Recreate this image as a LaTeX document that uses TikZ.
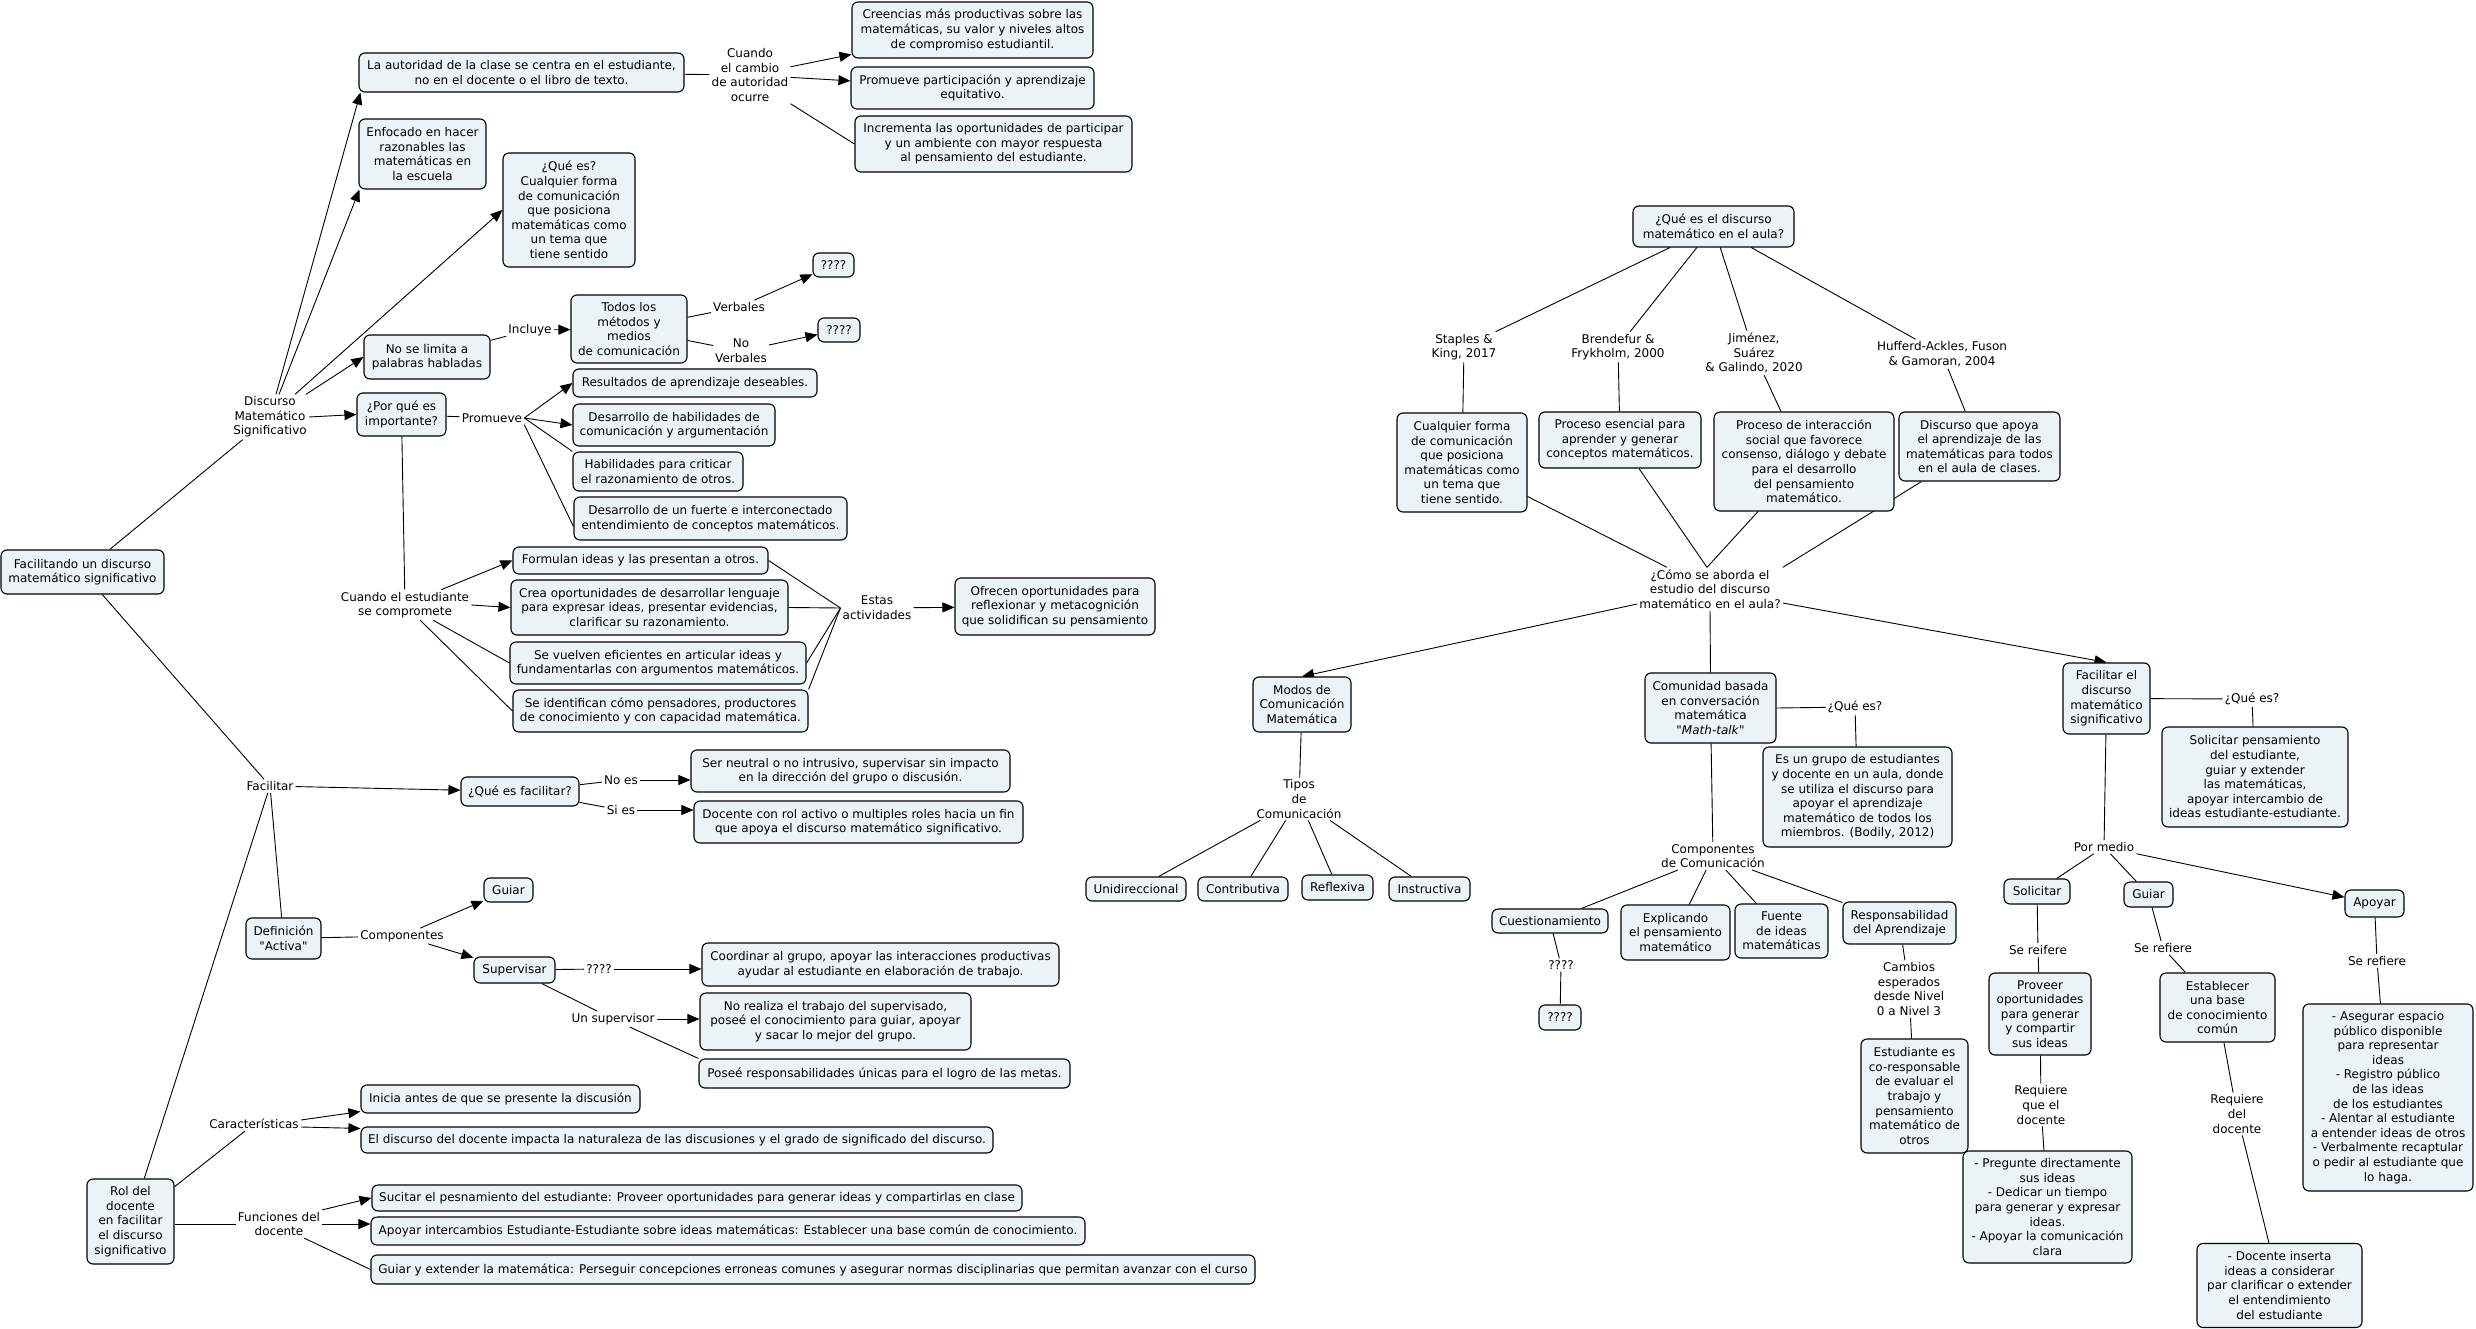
\documentclass[tikz,border=0pt]{standalone}
\usepackage{fontspec}
\setmainfont{DejaVu Sans}
\usetikzlibrary{arrows.meta,backgrounds,calc}
\definecolor{boxfill}{RGB}{236,243,245}
\newcommand{\mapfont}{\fontsize{12}{14.6}\selectfont}
\newcommand{\sq}{\XeTeXglyph\XeTeXcharglyph"0022\relax}
\tikzset{
  box/.style={draw=black, line width=1.1pt, fill=boxfill, rounded corners=6pt, align=center, inner sep=2pt, font=\mapfont},
  lab/.style={align=center, inner sep=2pt, font=\mapfont},
  con/.style={line width=0.9pt, draw=black},
  arr/.style={con, -{Triangle[length=12pt,width=10pt]}}
}
\begin{document}
\begin{tikzpicture}[x=1pt,y=-1pt]
\useasboundingbox (0,0) rectangle (2476,1329);
% ---------------- left part ----------------
\node[box, minimum width=325, minimum height=39] (A1) at (521.5,72.5) {La autoridad de la clase se centra en el estudiante,\\ no en el docente o el libro de texto.};
\node[lab] (cuandocambio) at (750,75) {Cuando\\ el cambio\\ de autoridad\\ ocurre};
\node[box, minimum width=241, minimum height=56] (creencias) at (972.5,30) {Creencias más productivas sobre las\\ matemáticas, su valor y niveles altos\\ de compromiso estudiantil.};
\node[box, minimum width=243, minimum height=42] (promueve1) at (972.5,88) {Promueve participación y aprendizaje\\ equitativo.};
\node[box, minimum width=277, minimum height=56] (incrementa) at (993.5,144) {Incrementa las oportunidades de participar\\ y un ambiente con mayor respuesta\\ al pensamiento del estudiante.};
\node[box, minimum width=127, minimum height=70] (enf) at (422.5,154) {Enfocado en hacer\\ razonables las\\ matemáticas en\\ la escuela};
\node[box, minimum width=132, minimum height=114] (quees1) at (569,210) {¿Qué es?\\ Cualquier forma\\ de comunicación\\ que posiciona\\ matemáticas como\\ un tema que\\ tiene sentido};
\node[box, minimum width=126, minimum height=44] (nolimita) at (427,357) {No se limita a\\ palabras habladas};
\node[lab] (incluye) at (530,330) {Incluye};
\node[box, minimum width=116, minimum height=68] (todos) at (629,329) {Todos los\\ métodos y\\ medios\\ de comunicación};
\node[lab] (verbales) at (739,307) {Verbales};
\node[lab] (noverbales) at (741,351) {No\\ Verbales};
\node[box, minimum width=41, minimum height=24] (q1) at (833.5,265) {????};
\node[box, minimum width=42, minimum height=24] (q2) at (839,330) {????};
\node[lab] (dms) at (270,417) {Discurso\\ Matemático\\ Significativo};
\node[box, minimum width=89, minimum height=43] (porque) at (401.5,414.5) {¿Por qué es\\ importante?};
\node[lab] (promueve) at (492,418) {Promueve};
\node[box, minimum width=244, minimum height=28] (resultados) at (695,383) {Resultados de aprendizaje deseables.};
\node[box, minimum width=202, minimum height=42] (deshab) at (674,425) {Desarrollo de habilidades de\\ comunicación y argumentación};
\node[box, minimum width=170, minimum height=39] (habilidades) at (658,471.5) {Habilidades para criticar\\ el razonamiento de otros.};
\node[box, minimum width=273, minimum height=43] (desfuerte) at (710.5,518.5) {Desarrollo de un fuerte e interconectado\\ entendimiento de conceptos matemáticos.};
\node[lab] (cuandoest) at (405,605) {Cuando el estudiante\\ se compromete};
\node[box, minimum width=255, minimum height=27] (formulan) at (640.5,560.5) {Formulan ideas y las presentan a otros.};
\node[box, minimum width=277, minimum height=55] (crea) at (649.5,607.5) {Crea oportunidades de desarrollar lenguaje\\ para expresar ideas, presentar evidencias,\\ clarificar su razonamiento.};
\node[box, minimum width=296, minimum height=42] (sevuelven) at (658,663) {Se vuelven eficientes en articular ideas y\\ fundamentarlas con argumentos matemáticos.};
\node[box, minimum width=295, minimum height=42] (seident) at (660.5,711) {Se identifican cómo pensadores, productores\\ de conocimiento y con capacidad matemática.};
\node[lab] (estas) at (877,608) {Estas\\ actividades};
\node[box, minimum width=200, minimum height=57] (ofrecen) at (1055,606.5) {Ofrecen oportunidades para\\ reflexionar y metacognición\\ que solidifican su pensamiento};
\node[box, minimum width=163, minimum height=44] (facilitando) at (82.5,572) {Facilitando un discurso\\ matemático significativo};
\node[lab] (facilitar) at (270,786) {Facilitar};
\node[box, minimum width=118, minimum height=29] (quesfac) at (520,791.5) {¿Qué es facilitar?};
\node[lab] (noes) at (621,780) {No es};
\node[lab] (sies) at (621,810) {Si es};
\node[box, minimum width=319, minimum height=42] (serneutral) at (850.5,771) {Ser neutral o no intrusivo, supervisar sin impacto\\ en la dirección del grupo o discusión.};
\node[box, minimum width=329, minimum height=42] (docenterol) at (858.5,822) {Docente con rol activo o multiples roles hacia un fin\\ que apoya el discurso matemático significativo.};
\node[box, minimum width=75, minimum height=41] (definicion) at (283.5,938.5) {Definición\\ \sq Activa\sq};
\node[lab] (componentes1) at (402,936) {Componentes};
\node[box, minimum width=49, minimum height=24] (guiar1) at (508.5,890) {Guiar};
\node[box, minimum width=81, minimum height=26] (supervisar) at (514.5,970) {Supervisar};
\node[lab] (q3) at (599,969) {????};
\node[box, minimum width=357, minimum height=43] (coordinar) at (880.5,964.5) {Coordinar al grupo, apoyar las interacciones productivas\\ ayudar al estudiante en elaboración de trabajo.};
\node[lab] (unsup) at (613,1019) {Un supervisor};
\node[box, minimum width=271, minimum height=57] (norealiza) at (835.5,1021.5) {No realiza el trabajo del supervisado,\\ poseé el conocimiento para guiar, apoyar\\ y sacar lo mejor del grupo.};
\node[box, minimum width=371, minimum height=29] (posee) at (884.5,1073.5) {Poseé responsabilidades únicas para el logro de las metas.};
\node[box, minimum width=87, minimum height=85] (rol) at (130.5,1221.5) {Rol del\\ docente\\ en facilitar\\ el discurso\\ significativo};
\node[lab] (caract) at (254,1124) {Características};
\node[box, minimum width=279, minimum height=28] (inicia) at (500.5,1099) {Inicia antes de que se presente la discusión};
\node[box, minimum width=632, minimum height=26] (eldiscurso) at (677,1140) {El discurso del docente impacta la naturaleza de las discusiones y el grado de significado del discurso.};
\node[lab] (funciones) at (279,1224) {Funciones del\\ docente};
\node[box, minimum width=650, minimum height=26] (sucitar) at (697,1198) {Sucitar el pesnamiento del estudiante: Proveer oportunidades para generar ideas y compartirlas en clase};
\node[box, minimum width=714, minimum height=28] (apoyarint) at (728,1231) {Apoyar intercambios Estudiante-Estudiante sobre ideas matemáticas: Establecer una base común de conocimiento.};
\node[box, minimum width=884, minimum height=29] (guiarext) at (813,1269.5) {Guiar y extender la matemática: Perseguir concepciones erroneas comunes y asegurar normas disciplinarias que permitan avanzar con el curso};
% ---------------- right part ----------------
\node[box, minimum width=161, minimum height=41] (quees2) at (1713.5,226.5) {¿Qué es el discurso\\ matemático en el aula?};
\node[lab] (staples) at (1464,347) {Staples \&\\ King, 2017};
\node[lab] (brendefur) at (1618,347) {Brendefur \&\\ Frykholm, 2000};
\node[lab] (jimenez) at (1754,353) {Jiménez,\\ Suárez\\ \& Galindo, 2020};
\node[lab] (hufferd) at (1942,354) {Hufferd-Ackles, Fuson\\ \& Gamoran, 2004};
\node[box, minimum width=130, minimum height=99] (cualquier) at (1462,462.5) {Cualquier forma\\ de comunicación\\ que posiciona\\ matemáticas como\\ un tema que\\ tiene sentido.};
\node[box, minimum width=162, minimum height=56] (proceso1) at (1620,440) {Proceso esencial para\\ aprender y generar\\ conceptos matemáticos.};
\node[box, minimum width=180, minimum height=99] (proceso2) at (1804,461.5) {Proceso de interacción\\ social que favorece\\ consenso, diálogo y debate\\ para el desarrollo\\ del pensamiento\\ matemático.};
\node[box, minimum width=161, minimum height=69] (discursoapoya) at (1979.5,446.5) {Discurso que apoya\\ el aprendizaje de las\\ matemáticas para todos\\ en el aula de clases.};
\node[lab] (como) at (1710,589) {¿Cómo se aborda el\\ estudio del discurso\\ matemático en el aula?};
\node[box, minimum width=98, minimum height=55] (modos) at (1302,704.5) {Modos de\\ Comunicación\\ Matemática};
\node[lab] (tipos) at (1299,799) {Tipos\\ de\\ Comunicación};
\node[box, minimum width=100, minimum height=24] (unidireccional) at (1136,889) {Unidireccional};
\node[box, minimum width=90, minimum height=24] (contributiva) at (1243,889) {Contributiva};
\node[box, minimum width=71, minimum height=25] (reflexiva) at (1337.5,887.5) {Reflexiva};
\node[box, minimum width=81, minimum height=24] (instructiva) at (1429.5,889) {Instructiva};
\node[box, minimum width=131, minimum height=70] (comunidad) at (1710.5,708) {Comunidad basada\\ en conversación\\ matemática\\ \sq\textit{Math-talk}\sq};
\node[lab] (queesR1) at (1855,707) {¿Qué es?};
\node[box, minimum width=189, minimum height=100] (esungrupo) at (1857.5,797) {Es un grupo de estudiantes\\ y docente en un aula, donde\\ se utiliza el discurso para\\ apoyar el aprendizaje\\ matemático de todos los\\ miembros. (Bodily, 2012)};
\node[lab] (componentes2) at (1713,856) {Componentes\\ de Comunicación};
\node[box, minimum width=116, minimum height=24] (cuestionamiento) at (1550,921) {Cuestionamiento};
\node[box, minimum width=109, minimum height=55] (explicando) at (1675.5,932.5) {Explicando\\ el pensamiento\\ matemático};
\node[box, minimum width=93, minimum height=54] (fuente) at (1781.5,931) {Fuente\\ de ideas\\ matemáticas};
\node[box, minimum width=113, minimum height=42] (responsabilidad) at (1899.5,923) {Responsabilidad\\ del Aprendizaje};
\node[lab] (q4) at (1561,965) {????};
\node[box, minimum width=42, minimum height=25] (q4box) at (1560,1017.5) {????};
\node[lab] (cambios) at (1909,989) {Cambios\\ esperados\\ desde Nivel\\ 0 a Nivel 3};
\node[box, minimum width=107, minimum height=114] (estudiante) at (1914.5,1096) {Estudiante es\\ co-responsable\\ de evaluar el\\ trabajo y\\ pensamiento\\ matemático de\\ otros};
\node[box, minimum width=87, minimum height=71] (facilitar2) at (2106.5,698.5) {Facilitar el\\ discurso\\ matemático\\ significativo};
\node[lab] (queesR2) at (2252,699) {¿Qué es?};
\node[box, minimum width=186, minimum height=100] (solicitarpens) at (2255,777) {Solicitar pensamiento\\ del estudiante,\\ guiar y extender\\ las matemáticas,\\ apoyar intercambio de\\ ideas estudiante-estudiante.};
\node[lab] (pormedio) at (2104,847) {Por medio};
\node[box, minimum width=66, minimum height=25] (solicitar) at (2037,891.5) {Solicitar};
\node[box, minimum width=49, minimum height=25] (guiar2) at (2148.5,894.5) {Guiar};
\node[box, minimum width=59, minimum height=27] (apoyar) at (2374.5,903.5) {Apoyar};
\node[lab] (sereifere) at (2038,950) {Se reifere};
\node[box, minimum width=102, minimum height=82] (proveer) at (2040,1014) {Proveer\\ oportunidades\\ para generar\\ y compartir\\ sus ideas};
\node[lab] (requiere1) at (2041,1105) {Requiere\\ que el\\ docente};
\node[box, minimum width=169, minimum height=112] (pregunte) at (2047.5,1207) {- Pregunte directamente\\ sus ideas\\ - Dedicar un tiempo\\ para generar y expresar\\ ideas.\\ - Apoyar la comunicación\\ clara};
\node[lab] (serefiere1) at (2163,948) {Se refiere};
\node[box, minimum width=115, minimum height=69] (establecer) at (2217.5,1007.5) {Establecer\\ una base\\ de conocimiento\\ común};
\node[lab] (requiere2) at (2237,1114) {Requiere\\ del\\ docente};
\node[box, minimum width=165, minimum height=84] (docinserta) at (2279.5,1285.5) {- Docente inserta\\ ideas a considerar\\ par clarificar o extender\\ el entendimiento\\ del estudiante};
\node[lab] (serefiere2) at (2377,961) {Se refiere};
\node[box, minimum width=170, minimum height=187] (asegurar) at (2388,1097.5) {- Asegurar espacio\\ público disponible\\ para representar\\ ideas\\ - Registro público\\ de las ideas\\ de los estudiantes\\ - Alentar al estudiante\\ a entender ideas de otros\\ - Verbalmente recaptular\\ o pedir al estudiante que\\ lo haga.};
% ---------------- connectors ----------------
\begin{pgfonlayer}{background}
\fill[white] (0,0) rectangle (2476,1329);
\draw[arr] ([xshift=6pt]dms.north) -- ([xshift=2pt]A1.south west);
\draw[arr] ([xshift=9pt]dms.north) -- ([xshift=1pt]enf.south west);
\draw[arr] ([xshift=25pt]dms.north) -- (quees1.west);
\draw[arr] ([xshift=-3pt]dms.north east) -- (nolimita.west);
\draw[arr] (dms.east) -- (porque.west);
\draw[con] (facilitando) -- (dms);
\draw[con] (facilitando) -- (facilitar);
\draw[con] (A1) -- (cuandocambio);
\draw[arr] (cuandocambio) -- (creencias);
\draw[arr] (cuandocambio) -- (promueve1);
\draw[con] (cuandocambio.south east) -- (incrementa.west);
\draw[con] (nolimita) -- (incluye);
\draw[arr] (incluye) -- (todos);
\draw[con] (todos) -- (verbales);
\draw[arr] (verbales) -- (q1);
\draw[con] (todos) -- (noverbales);
\draw[arr] (noverbales) -- (q2);
\draw[con] (porque) -- (promueve);
\draw[arr] (promueve.east) -- (resultados.west);
\draw[arr] (promueve.east) -- (deshab.west);
\draw[con] (promueve.east) -- (habilidades.north west);
\draw[con] (promueve.south east) -- ([yshift=-8pt]desfuerte.west);
\draw[con] (porque) -- (cuandoest);
\draw[arr] ([xshift=-30pt]cuandoest.north east) -- (formulan.west);
\draw[arr] (cuandoest.east) -- (crea.west);
\draw[con] ([xshift=-38pt]cuandoest.south east) -- (sevuelven.west);
\draw[con] ([xshift=-51pt]cuandoest.south east) -- (seident.west);
\draw[con] (formulan.east) -- (estas.west);
\draw[con] (crea.east) -- (estas.west);
\draw[con] (sevuelven.east) -- (estas.west);
\draw[con] (seident.north east) -- (estas.west);
\draw[arr] (estas) -- (ofrecen);
\draw[arr] (facilitar) -- (quesfac);
\draw[con] (quesfac) -- (noes);
\draw[arr] (noes.east) -- (noes.east -| serneutral.west);
\draw[con] (quesfac) -- (sies);
\draw[arr] (sies.east) -- (sies.east -| docenterol.west);
\draw[con] (facilitar) -- (definicion);
\draw[con] (facilitar) -- (rol);
\draw[con] (definicion) -- (componentes1);
\draw[arr] (componentes1) -- (guiar1);
\draw[arr] (componentes1) -- (supervisar);
\draw[con] (supervisar) -- (q3);
\draw[arr] (q3.east) -- (q3.east -| coordinar.west);
\draw[con] (supervisar) -- (unsup);
\draw[arr] (unsup.east) -- (unsup.east -| norealiza.west);
\draw[con] ([xshift=-27pt]unsup.south east) -- (posee.north west);
\draw[con] (rol) -- (caract);
\draw[arr] ([yshift=4pt]caract.east) -- ([yshift=2pt]inicia.south west);
\draw[arr] ([yshift=-3pt]caract.east) -- ([yshift=-2pt]eldiscurso.north west);
\draw[con] (rol.east |- funciones.west) -- (funciones.west);
\draw[arr] (funciones.north east) -- (sucitar.west);
\draw[arr] (funciones.east) -- (funciones.east -| apoyarint.west);
\draw[con] ([xshift=-18pt]funciones.south east) -- (guiarext.west);
% right
\draw[con] (quees2) -- (staples);
\draw[con] (quees2) -- (brendefur);
\draw[con] (quees2) -- (jimenez);
\draw[con] (quees2) -- (hufferd);
\draw[con] (staples) -- (cualquier);
\draw[con] (brendefur) -- (proceso1);
\draw[con] (jimenez) -- (proceso2);
\draw[con] (hufferd) -- (discursoapoya);
\draw[con] ([yshift=-34pt]cualquier.east) -- ([xshift=-43pt]como.north);
\draw[con] ([xshift=19pt]proceso1.south) -- ([xshift=-3pt]como.north);
\draw[con] ([xshift=-46pt]proceso2.south) -- ([xshift=-3pt]como.north);
\draw[con] ([xshift=-58pt]discursoapoya.south) -- (como.north east);
\draw[arr] ([yshift=-15pt]como.west) -- (modos.north);
\draw[con] (como.south) -- (comunidad.north);
\draw[arr] ([yshift=-14pt]como.east) -- (facilitar2.north);
\draw[con] (modos) -- (tipos);
\draw[con] (tipos) -- (unidireccional);
\draw[con] (tipos) -- (contributiva);
\draw[con] (tipos) -- (reflexiva);
\draw[con] (tipos) -- (instructiva);
\draw[con] (comunidad.east) -- (queesR1);
\draw[con] (queesR1) -- (esungrupo);
\draw[con] (comunidad) -- (componentes2);
\draw[con] (componentes2) -- (cuestionamiento);
\draw[con] (componentes2) -- (explicando);
\draw[con] (componentes2) -- (fuente);
\draw[con] (componentes2) -- (responsabilidad);
\draw[con] (cuestionamiento) -- (q4);
\draw[con] (q4) -- (q4box);
\draw[con] (responsabilidad) -- (cambios);
\draw[con] (cambios) -- (estudiante);
\draw[con] (facilitar2) -- (queesR2);
\draw[con] (queesR2) -- (solicitarpens);
\draw[con] (facilitar2) -- (pormedio);
\draw[con] (pormedio) -- (solicitar);
\draw[con] (pormedio) -- (guiar2);
\draw[arr] (pormedio) -- (apoyar);
\draw[con] (solicitar) -- (sereifere);
\draw[con] (sereifere) -- (proveer);
\draw[con] (proveer) -- (requiere1);
\draw[con] (requiere1) -- (pregunte);
\draw[con] (guiar2) -- (serefiere1);
\draw[con] (serefiere1) -- (establecer);
\draw[con] (establecer) -- (requiere2);
\draw[con] (requiere2) -- (docinserta);
\draw[con] (apoyar) -- (serefiere2);
\draw[con] (serefiere2) -- (asegurar);
\end{pgfonlayer}
\end{tikzpicture}
\end{document}
